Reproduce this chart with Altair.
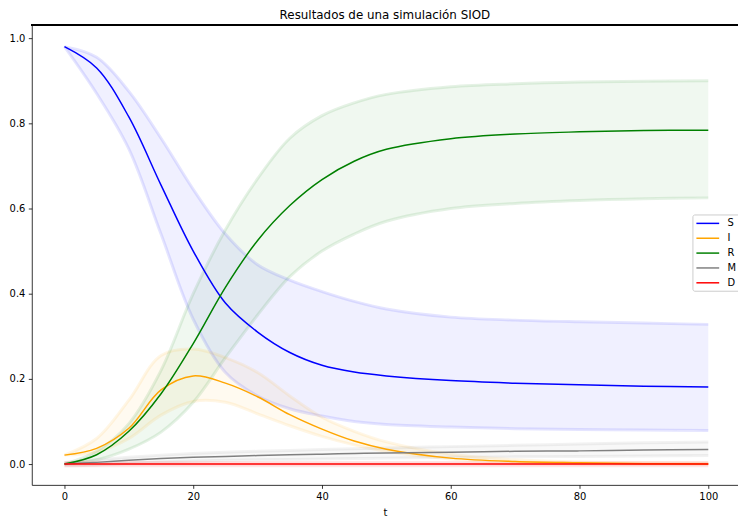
import altair as alt
import pandas as pd

t_vals = [0, 5, 10, 15, 20, 25, 30, 35, 40, 45, 50, 60, 70, 80, 90, 100]

S_mean = [0.98, 0.93, 0.815, 0.655, 0.50, 0.378, 0.31, 0.262, 0.232, 0.216, 0.207, 0.196, 0.19, 0.186, 0.183, 0.181]
S_low = [0.98, 0.87, 0.74, 0.54, 0.34, 0.215, 0.16, 0.13, 0.113, 0.10, 0.093, 0.087, 0.083, 0.081, 0.08, 0.079]
S_high = [0.98, 0.955, 0.875, 0.765, 0.645, 0.54, 0.468, 0.432, 0.405, 0.382, 0.364, 0.345, 0.338, 0.334, 0.331, 0.328]

I_mean = [0.021, 0.037, 0.084, 0.174, 0.207, 0.19, 0.158, 0.116, 0.082, 0.054, 0.035, 0.014, 0.006, 0.003, 0.001, 0.0]
I_low = [0.021, 0.028, 0.06, 0.115, 0.147, 0.145, 0.118, 0.09, 0.065, 0.045, 0.03, 0.012, 0.004, 0.001, 0.0, 0.0]
I_high = [0.021, 0.06, 0.15, 0.255, 0.27, 0.25, 0.215, 0.16, 0.11, 0.077, 0.052, 0.023, 0.01, 0.005, 0.003, 0.002]

R_mean = [0.0, 0.022, 0.077, 0.165, 0.283, 0.415, 0.525, 0.607, 0.668, 0.711, 0.739, 0.764, 0.775, 0.78, 0.783, 0.784]
R_low = [0.0, 0.01, 0.035, 0.075, 0.145, 0.25, 0.35, 0.44, 0.50, 0.54, 0.57, 0.60, 0.612, 0.619, 0.623, 0.625]
R_high = [0.0, 0.03, 0.095, 0.22, 0.40, 0.55, 0.67, 0.765, 0.818, 0.848, 0.868, 0.886, 0.893, 0.897, 0.899, 0.90]

M_mean = [0.0, 0.004, 0.009, 0.013, 0.016, 0.018, 0.02, 0.022, 0.023, 0.025, 0.026, 0.028, 0.03, 0.031, 0.033, 0.034]
M_low = [-0.004, -0.002, 0.002, 0.005, 0.007, 0.009, 0.01, 0.011, 0.012, 0.013, 0.014, 0.016, 0.017, 0.018, 0.019, 0.02]
M_high = [0.004, 0.01, 0.016, 0.021, 0.025, 0.028, 0.03, 0.032, 0.034, 0.036, 0.038, 0.041, 0.044, 0.047, 0.05, 0.052]

D_mean = [0.0] * 16
D_low = [-0.004] * 16
D_high = [0.004] * 16

series = ["S", "I", "R", "M", "D"]
colors = ["#0000ff", "#ffa500", "#008000", "#808080", "#ff0000"]

rows = []
for name, m, lo, hi in [
    ("S", S_mean, S_low, S_high),
    ("I", I_mean, I_low, I_high),
    ("R", R_mean, R_low, R_high),
    ("M", M_mean, M_low, M_high),
    ("D", D_mean, D_low, D_high),
]:
    for i, tv in enumerate(t_vals):
        rows.append({"t": tv, "serie": name, "mean": m[i], "low": lo[i], "high": hi[i]})
df = pd.DataFrame(rows)

FONT = "DejaVu Sans"
INTERP = "catmull-rom"
xscale = alt.Scale(domain=[-5.077, 104.615], nice=False, zero=False)
yscale = alt.Scale(domain=[-0.0488, 1.0302], nice=False, zero=False)
cscale = alt.Scale(domain=series, range=colors)

xaxis = alt.Axis(values=[0, 20, 40, 60, 80, 100], title="t", grid=False, format="d")
yaxis = alt.Axis(values=[0.0, 0.2, 0.4, 0.6, 0.8, 1.0], format=".1f", title=None, grid=False)

X = alt.X("t:Q", scale=xscale, axis=xaxis)
base = alt.Chart(df)

band = base.mark_area(opacity=0.06, interpolate=INTERP).encode(
    x=X,
    y=alt.Y("low:Q", scale=yscale, axis=yaxis),
    y2="high:Q",
    color=alt.Color("serie:N", scale=cscale, legend=None),
)

edge_low = base.mark_line(opacity=0.1, strokeWidth=3, interpolate=INTERP).encode(
    x=X,
    y=alt.Y("low:Q", scale=yscale, axis=yaxis),
    color=alt.Color("serie:N", scale=cscale, legend=None),
)
edge_high = base.mark_line(opacity=0.1, strokeWidth=3, interpolate=INTERP).encode(
    x=X,
    y=alt.Y("high:Q", scale=yscale, axis=yaxis),
    color=alt.Color("serie:N", scale=cscale, legend=None),
)

lines = base.mark_line(strokeWidth=1.5, interpolate=INTERP).encode(
    x=X,
    y=alt.Y("mean:Q", scale=yscale, axis=yaxis),
    color=alt.Color(
        "serie:N",
        scale=cscale,
        sort=series,
        legend=alt.Legend(
            orient="none",
            legendX=667,
            legendY=191,
            title=None,
            symbolType="M-2.3,0H2.3",
            symbolSize=100,
            symbolStrokeWidth=1.5,
            symbolOffset=6.5,
            labelOffset=14,
            labelFontSize=10,
            labelFont=FONT,
            labelColor="black",
            fillColor="white",
            strokeColor="#cccccc",
            padding=3,
            rowPadding=4,
            cornerRadius=2,
        ),
    ),
    order=alt.Order("t:Q"),
)

top_spine = alt.Chart(df).mark_rule(color="black", strokeWidth=0.8).encode(
    x=alt.value(0), x2=alt.value(713), y=alt.value(0)
)

chart = (
    alt.layer(band, edge_low, edge_high, lines, top_spine)
    .resolve_legend(color="independent")
    .properties(
        width=713,
        height=464,
        title=alt.TitleParams(
            "Resultados de una simulación SIOD",
            fontSize=12,
            font=FONT,
            fontWeight="normal",
            color="black",
            baseline="alphabetic",
            offset=-6,
        ),
        autosize=alt.AutoSizeParams(type="none"),
        padding={"left": 24, "top": 15, "right": 0, "bottom": 30},
    )
    .configure_view(stroke=None)
    .configure_axis(
        domainColor="black",
        domainWidth=0.8,
        tickColor="black",
        tickWidth=0.8,
        tickSize=3.5,
        labelFontSize=10,
        labelFont=FONT,
        labelColor="black",
        labelPadding=3.5,
        titleFont=FONT,
        titleFontSize=10,
        titleFontWeight="normal",
        titleColor="black",
        titlePadding=6,
    )
)

chart.save("out.html", embed_options={"renderer": "svg", "actions": False})
